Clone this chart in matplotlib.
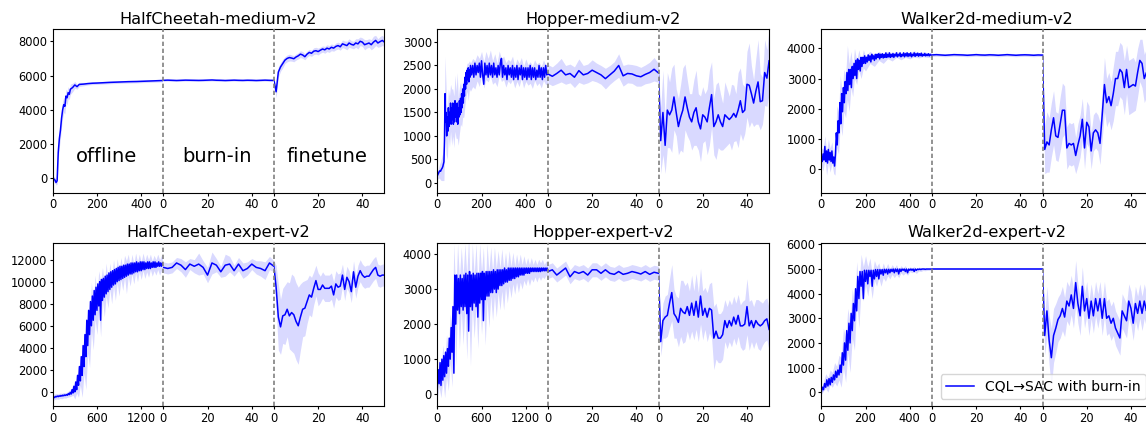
import matplotlib
matplotlib.use("Agg")
import matplotlib.pyplot as plt

# ---------------- data ----------------
burn_x = list(range(0, 51, 2))
fine_x = list(range(0, 51))

# HalfCheetah-medium-v2
hcm_off_x = [0, 5, 10, 15, 20, 25, 30, 35, 40, 45, 50, 55, 60, 65, 70, 75, 80, 90, 100, 110, 120, 140, 160, 180, 200, 230, 260, 300, 340, 380, 420, 460, 500]
hcm_off_y = [100, -50, -100, -250, -150, 1500, 2300, 2800, 3500, 4000, 4300, 4200, 4800, 4700, 5000, 4900, 5200, 5300, 5450, 5350, 5480, 5500, 5530, 5550, 5560, 5580, 5600, 5620, 5640, 5650, 5670, 5690, 5710]
hcm_off_s = [150, 150, 150, 150, 200, 400, 500, 500, 500, 500, 450, 450, 400, 400, 350, 300, 300, 250, 200, 150, 120, 100, 80, 80, 80, 80, 80, 80, 80, 80, 80, 80, 80]
hcm_burn_y = [5720, 5730, 5720, 5710, 5720, 5730, 5725, 5720, 5715, 5720, 5730, 5740, 5725, 5720, 5710, 5720, 5730, 5720, 5715, 5725, 5720, 5710, 5720, 5730, 5720, 5715]
hcm_burn_s = [60] * 26
hcm_fine_y = [5720, 5050, 6200, 6500, 6700, 6900, 7000, 7050, 7020, 6980, 7080, 7150, 7250, 7200, 7100, 7250, 7350, 7300, 7420, 7450, 7400, 7480, 7550, 7500, 7600, 7550, 7650, 7600, 7700, 7750, 7680, 7850, 7800, 7750, 7900, 7820, 7780, 7900, 7850, 8000, 7950, 7800, 7850, 7900, 7800, 7950, 8050, 7900, 7980, 8050, 7950]
hcm_fine_s = [100, 350, 300, 250, 250, 200, 200, 200, 180, 180, 180, 180, 200, 200, 180, 180, 180, 180, 200, 200, 200, 180, 180, 200, 200, 200, 200, 180, 200, 200, 200, 220, 220, 250, 250, 220, 220, 250, 300, 250, 250, 300, 250, 250, 300, 350, 300, 250, 300, 300, 250]

# Hopper-medium-v2
hom_off_x = [i * 2.5 for i in range(61)] + list(range(155, 501, 5))
hom_off_y = [150, 180, 200, 230, 250, 260, 250, 280, 300, 320, 350, 400, 450,
             900, 1900, 1300, 1500, 1000, 1400, 1100, 1600, 1200, 1500,
             1300, 1700, 1250, 1600, 1350, 1700, 1250, 1550, 1300, 1750,
             1400, 1650, 1300, 1700, 1250, 1600, 1400, 1750, 1450, 1800,
             1500, 1900, 1600, 2000, 1700, 2100, 1850, 2250, 2000, 2350,
             2100, 2400, 2200, 2450, 2150, 2400, 2250, 2500,
             2300, 2500, 2250, 2550, 2300, 2500, 2350, 2550, 2250, 2600,
             2300, 2100, 2550, 2300, 2500, 2250, 2550, 2300, 2500, 2250,
             2550, 2300, 2450, 2250, 2500, 2300, 2550, 2650, 2250, 2500,
             2300, 2450, 2200, 2500, 2300, 2450, 2250, 2500, 2200, 2450,
             2250, 2500, 2200, 2450, 2300, 2500, 2200, 2450, 2250, 2450,
             2200, 2450, 2250, 2500, 2200, 2450, 2250, 2450, 2200, 2400,
             2250, 2500, 2250, 2450, 2200, 2450, 2250, 2500, 2300, 2350]
hom_band_x = [0, 5, 10, 15, 20, 25, 30, 35, 40, 45, 50, 55, 60, 65, 70, 75, 80, 85, 90, 95, 100, 105, 110, 115, 120, 125, 130, 135, 140, 145, 150,
              160, 170, 180, 190, 200, 210, 220, 230, 240, 250, 260, 270, 280, 290, 300, 310, 320, 330, 340, 350, 360, 370, 380, 390, 400, 410, 420, 430, 440, 450, 460, 470, 480, 490, 500]
hom_band_y = [150, 200, 250, 260, 300, 350, 450, 1900, 1300, 1000, 1500, 1300, 1600, 1400, 1500, 1300, 1700, 1450, 1650, 1300, 1550, 1700, 1600, 1800, 1750, 2000, 2150, 2250, 2150, 2300, 2250,
              2350, 2300, 2450, 2350, 2550, 2300, 2500, 2400, 2550, 2350, 2450, 2300, 2550, 2400, 2450, 2300, 2400, 2350, 2450, 2250, 2400, 2300, 2450, 2250, 2400, 2300, 2350, 2250, 2400, 2300, 2350, 2250, 2400, 2300, 2350]
hom_band_s = [80, 100, 150, 200, 250, 300, 400, 800, 700, 500, 500, 550, 500, 600, 500, 550, 600, 500, 700, 500, 500, 450, 400, 400, 350, 350, 300, 300, 400, 300, 300,
              300, 300, 280, 300, 250, 280, 300, 250, 280, 250, 300, 250, 260, 240, 250, 260, 230, 240, 250, 230, 240, 250, 220, 230, 240, 220, 230, 240, 220, 230, 220, 230, 220, 210, 220]
hom_burn_y = [2320, 2270, 2330, 2400, 2300, 2330, 2250, 2390, 2300, 2330, 2400, 2350, 2300, 2220, 2300, 2380, 2500, 2280, 2330, 2320, 2280, 2260, 2310, 2350, 2420, 2340]
hom_burn_s = [200, 200, 220, 250, 200, 200, 220, 250, 200, 200, 220, 200, 200, 220, 200, 200, 250, 220, 200, 200, 220, 200, 200, 220, 250, 200]
hom_fine_y = [2300, 900, 1500, 800, 1550, 1450, 1550, 1830, 1500, 1200, 1400, 1550, 1830, 1600, 1400, 1300, 1500, 1600, 1300, 1150, 1450, 1400, 1300, 1600, 1880, 1200, 1300, 1450, 1300, 1200, 1450, 1400, 1350, 1400, 1480, 1400, 1550, 1750, 1500, 1550, 2100, 2080, 1900, 1700, 1950, 2150, 1730, 1750, 2350, 2230, 2600]
hom_fine_s = [100, 700, 900, 600, 800, 700, 900, 700, 500, 600, 700, 900, 700, 600, 500, 600, 700, 800, 600, 700, 600, 500, 700, 800, 700, 600, 800, 700, 600, 500, 700, 600, 500, 700, 600, 500, 800, 700, 600, 500, 700, 900, 600, 500, 700, 900, 600, 500, 700, 600, 700]

# Walker2d-medium-v2
wam_off_x = list(range(0, 501, 4))
wam_off_y = [400, 250, 500, 300, 750, 250, 600, 200, 650, 300,
             550, 250, 600, 200, 400, 100, 500, 1200, 800, 1600,
             1200, 2200, 1500, 2500, 1900, 2700, 2200, 2900, 2500, 3200,
             2600, 3300, 2800, 3300, 2700, 3400, 3000, 3500, 3100, 3600,
             3000, 3650, 3300, 3600, 3250, 3700, 3400, 3700, 3500, 3750,
             3500, 3700, 3550, 3780, 3600, 3750, 3550, 3800, 3650, 3750,
             3600, 3800, 3650, 3800, 3700, 3820, 3650, 3800, 3700, 3820,
             3680, 3800, 3700, 3850, 3700, 3800, 3720, 3850, 3700, 3800,
             3720, 3830, 3700, 3800, 3750, 3850, 3720, 3800, 3750, 3850,
             3720, 3800, 3750, 3850, 3720, 3820, 3750, 3850, 3730, 3820,
             3750, 3850, 3720, 3800, 3760, 3850, 3730, 3820, 3760, 3840,
             3740, 3820, 3760, 3840, 3740, 3800, 3760, 3830, 3750, 3800,
             3760, 3820, 3750, 3800, 3770, 3780]
wam_band_x = [0, 8, 16, 24, 32, 40, 48, 56, 62, 70, 78, 86, 94, 102, 110, 118, 126, 134, 142, 150, 160, 170, 180, 190, 200, 220, 240, 260, 280, 300, 320, 340, 360, 380, 400, 420, 440, 460, 480, 500]
wam_band_y = [400, 300, 700, 200, 600, 300, 550, 150, 100, 1400, 1200, 2300, 1800, 2600, 2400, 3200, 2700, 3300, 2900, 3500, 3200, 3600, 3300, 3650, 3500, 3700, 3600, 3750, 3650, 3780, 3700, 3800, 3720, 3800, 3750, 3820, 3760, 3800, 3780, 3780]
wam_band_s = [300, 350, 400, 400, 400, 400, 350, 300, 300, 700, 700, 800, 700, 700, 700, 900, 800, 600, 500, 500, 400, 350, 300, 300, 250, 200, 200, 150, 150, 120, 120, 100, 100, 100, 100, 100, 80, 80, 80, 80]
wam_burn_y = [3780, 3790, 3780, 3770, 3780, 3790, 3785, 3780, 3770, 3780, 3790, 3780, 3775, 3785, 3780, 3770, 3780, 3790, 3780, 3770, 3780, 3785, 3780, 3770, 3780, 3775]
wam_burn_s = [50] * 26
wam_fine_y = [3780, 650, 900, 800, 1300, 1700, 1100, 1050, 1500, 1950, 1950, 700, 850, 800, 850, 450, 800, 1100, 1650, 700, 1550, 1400, 600, 1200, 1300, 1200, 850, 1800, 2800, 2200, 2400, 2100, 2500, 3000, 3000, 3300, 3200, 2700, 3300, 2700, 2750, 2800, 2750, 3200, 3600, 3500, 3000, 3200, 3100, 3300, 3200]
wam_fine_s = [100, 800, 1000, 900, 900, 900, 800, 800, 900, 900, 800, 700, 700, 700, 700, 600, 700, 700, 700, 700, 700, 700, 600, 600, 600, 600, 700, 800, 900, 800, 800, 800, 900, 900, 900, 900, 900, 900, 800, 900, 900, 900, 800, 800, 700, 800, 800, 800, 800, 800, 800]

# HalfCheetah-expert-v2
hce_off_x = [i * 12.5 for i in range(121)]
hce_off_y = [-500, -450, -520, -420, -450, -380, -430, -360, -400, -330, -380, -300, -350, -280, -320, -250,
             -300, -150, -250, -50, -200, 200, -100, 500, 0, 900, 200, 1500, 600, 2300, 1000, 3200,
             1500, 4200, 2300, 5200, 3200, 6500, 4200, 7400, 5200, 8200, 6000, 8700, 6500, 9200, 7000, 9500,
             7400, 9800, 7800, 10000, 6500, 10200, 8300, 10300, 8600, 10500, 8900, 10600, 9100, 10800, 9300, 10900,
             9500, 11000, 9700, 11100, 9800, 11200, 10000, 11300, 10100, 11400, 10200, 11400, 10300, 11500, 10400, 11500,
             10500, 11600, 10600, 11600, 10700, 11700, 10700, 11700, 10800, 11700, 10900, 11800, 10900, 11700, 11000, 11800,
             11000, 11800, 11100, 11800, 11100, 11700, 11200, 11800, 11200, 11800, 11200, 11700, 11300, 11800, 11300, 11800,
             11300, 11700, 11400, 11800, 11400, 11700, 11400, 11700, 11500]
hce_band_x = list(range(0, 1501, 25))
hce_band_y = [-500, -450, -400, -420, -350, -380, -300, -320, -250, -150, -100, 200, -50, 600, 300, 1800, 1000, 3500, 2200, 5500, 4200, 7800, 5800, 8600, 7000, 9200, 7500, 9800, 8300, 10200, 8800, 10500, 9200, 10800, 9500, 11000, 9800, 11200, 10200, 11400, 10400, 11500, 10500, 11600, 10700, 11700, 10900, 11700, 11000, 11800, 11100, 11700, 11200, 11800, 11200, 11700, 11300, 11800, 11300, 11700, 11400]
hce_band_s = [300, 250, 250, 250, 250, 250, 250, 250, 250, 300, 300,
              500, 600, 700, 800,
              1200, 1500, 1800, 2000, 2000, 2000, 2200, 2000, 2000, 1800,
              1800, 2500, 1500, 1500, 1500, 1200, 1200, 1200, 1200, 1200, 1100, 1100,
              1000, 1000, 1000, 1500, 1000, 900, 900, 900, 900, 900, 800, 800, 800, 800, 800, 800, 700, 700, 700, 700, 700, 700, 700, 700]
hce_burn_y = [11300, 11200, 11300, 11700, 11500, 11100, 11600, 11400, 11600, 11300, 10600, 11700, 11500, 10900, 11500, 11600, 11000, 11600, 11000, 11200, 11600, 11300, 11200, 11000, 11700, 11400]
hce_burn_s = [500, 500, 500, 500, 600, 700, 500, 600, 1000, 600, 700, 1000, 600, 500, 1000, 700, 500, 600, 700, 600, 500, 600, 700, 800, 600, 500]
hce_fine_y = [11400, 9500, 6800, 5900, 6900, 7000, 7500, 6900, 7200, 7000, 6400, 6000, 6800, 7500, 7600, 8200, 8800, 8600, 9400, 10100, 9300, 9300, 9700, 9400, 9400, 9400, 9600, 8800, 9800, 9500, 9600, 10600, 9300, 10400, 10000, 9100, 10900, 9500, 10500, 11000, 10600, 10400, 10500, 10500, 10800, 11100, 11300, 10600, 10500, 10600, 10600]
hce_fine_s = [500, 2000, 3000, 2500, 2500, 2700, 2500, 3000, 3500, 3500, 3500, 3500, 3000, 2500, 2500, 2000, 1800, 1800, 1500, 1400, 1500, 1200, 1200, 1200, 1200, 1200, 1200, 1200, 1200, 1200, 1200, 1000, 1000, 1000, 1000, 1000, 1000, 1000, 1000, 1000, 1000, 1000, 1000, 1000, 1000, 1000, 1000, 1000, 1000, 1000, 1000]

# Hopper-expert-v2
hoe_off_x = [i * 12.5 for i in range(121)]
hoe_off_y = [200, 700, 300, 900, 250, 1000, 400, 1100, 500, 1200, 600, 1300, 800, 1600, 1000, 1900,
             1200, 2500, 600, 3400, 2000, 3400, 2400, 3300, 2300, 3400, 2500, 3300, 2400, 3400, 2500, 3450,
             2300, 3400, 1800, 3500, 2500, 3400, 2400, 3450, 2600, 3400, 2500, 3450, 2200, 3450, 2600, 3450,
             2700, 3500, 2100, 3450, 2700, 3500, 2800, 3500, 2800, 3500, 2900, 3500, 2900, 3550, 3000, 3500,
             2900, 3550, 3000, 3550, 3100, 3550, 3100, 3550, 3150, 3600, 3200, 3550, 3200, 3600, 3250, 3600,
             3250, 3600, 3300, 3600, 3300, 3600, 3350, 3600, 3350, 3600, 3400, 3600, 3400, 3600, 3400, 3600,
             3450, 3600, 3450, 3600, 3450, 3600, 3500, 3600, 3500, 3600, 3500, 3600, 3500, 3600, 3500, 3600,
             3500, 3600, 3520, 3600, 3520, 3600, 3520, 3600, 3550]
hoe_band_x = list(range(0, 1501, 25))
hoe_band_y = [200, 600, 300, 900, 400, 1100, 700, 1600, 1000, 3400, 1800, 3400, 2300, 3300, 2400, 3400, 2200, 3500, 1800, 3400, 2500, 3400, 2200, 3500, 2600, 3400, 2200, 3500, 2700, 3500, 2800, 3500, 2900, 3500, 3000, 3550, 3000, 3550, 3100, 3600, 3200, 3600, 3250, 3600, 3300, 3600, 3350, 3600, 3400, 3600, 3400, 3600, 3450, 3600, 3450, 3600, 3500, 3600, 3500, 3600, 3500]
hoe_band_s = [300, 400, 400, 500, 500, 600, 600, 700, 800,
              900, 1000, 900, 1000, 900, 1000, 900, 1200, 1000, 1000, 900, 900, 900, 900, 800, 900, 800, 800, 800, 800,
              700, 700, 700, 700, 600, 600, 600, 600, 500, 500, 500, 450, 450, 400, 400, 400,
              400, 350, 350, 300, 300, 300, 300, 250, 250, 250, 250, 250, 250, 200, 200, 200]
hoe_burn_y = [3500, 3550, 3400, 3500, 3600, 3350, 3500, 3450, 3500, 3400, 3550, 3550, 3450, 3550, 3450, 3420, 3500, 3420, 3450, 3500, 3470, 3430, 3500, 3420, 3480, 3450]
hoe_burn_s = [200] * 26
hoe_fine_y = [3450, 1500, 2100, 2200, 2250, 2600, 2900, 2300, 2200, 2050, 2450, 2350, 2300, 2500, 2250, 2600, 2250, 2650, 2200, 2800, 2250, 2450, 2200, 2450, 2400, 1600, 1800, 1600, 1600, 1700, 2100, 1900, 2100, 1950, 2200, 2000, 2250, 1950, 1950, 2000, 2500, 1950, 2100, 1900, 2100, 2000, 1950, 2000, 2100, 2150, 1850]
hoe_fine_s = [100, 400, 500, 600, 600, 700, 800, 700, 600, 700, 800, 900, 800, 700, 700, 800, 700, 800, 700, 800, 700, 600, 700, 700, 800, 900, 800, 700, 700, 700, 600, 600, 600, 600, 600, 600, 600, 600, 700, 700, 800, 700, 600, 600, 600, 700, 700, 600, 600, 600, 600]

# Walker2d-expert-v2
wae_off_x = list(range(0, 501, 5))
wae_off_y = [0, 200, 100, 350, 200, 500, 250, 550, 300, 600,
             400, 700, 500, 850, 600, 900, 700, 1100, 800, 1600,
             1100, 2000, 1300, 2500, 1700, 2800, 2000, 3200, 2500, 3600,
             2900, 4200, 3300, 4700, 3800, 4900, 4300, 4900, 3800, 4950,
             4500, 4950, 4400, 4950, 4700, 4950, 4300, 4950, 4600, 4980,
             4700, 4980, 4600, 4980, 4800, 4980, 4750, 4990, 4850, 4990,
             4800, 4990, 4850, 4990, 4900, 5000, 4850, 5000, 4900, 5000,
             4800, 5000, 4900, 5000, 4950, 5000, 4900, 5000, 4850, 5000,
             4950, 5000, 4950, 5000, 4900, 5000, 4950, 5000, 4980, 5000,
             4980, 5000, 5000, 5000, 4990, 5000, 5000, 5000, 5000, 5000,
             5000]
wae_band_x = list(range(0, 501, 10))
wae_band_y = [0, 250, 450, 300, 600, 500, 800, 650, 1000, 800, 1800, 1300, 2500, 1800, 3200, 2600, 4500, 3400, 4900, 4400, 4950, 4500, 4950, 4300, 4950, 4700, 4950, 4600, 4950, 4750, 4980, 4800, 4980, 4850, 4980, 4800, 4990, 4900, 4990, 4850, 4990, 4950, 5000, 4900, 5000, 4980, 5000, 4990, 5000, 5000, 5000]
wae_band_s = [100, 200, 300, 300, 300, 300, 400, 400,
              500, 600, 800, 900, 900, 1000, 1000, 900, 800, 800, 700, 700, 600, 600, 500, 500, 400, 400,
              300, 300, 300, 250, 250, 200, 200, 200, 200, 150, 150, 150, 150, 100, 100, 100, 100, 80, 80, 80, 60, 60, 50, 50, 50]
wae_burn_y = [5000] * 26
wae_burn_s = [30] * 26
wae_fine_y = [5000, 2300, 3300, 2100, 1400, 2300, 2600, 2950, 3100, 3400, 3050, 3700, 3500, 3950, 3400, 4450, 3600, 3100, 4300, 3300, 3800, 3000, 3700, 3100, 3800, 3300, 3800, 3000, 3800, 3000, 3100, 2800, 3000, 2600, 2400, 2200, 3300, 3100, 2900, 3700, 3400, 2800, 3600, 3200, 3700, 3200, 3700, 3300, 3600, 3200, 3500]
wae_fine_s = [100, 800, 1000, 1000, 1200, 1100, 1000, 900, 900, 900, 800, 800, 800, 800, 800, 900, 800, 800, 800, 700, 700, 700, 700, 700, 700, 700, 700, 700, 700, 700, 700, 700, 700, 700, 700, 700, 700, 700, 700, 700, 700, 700, 700, 700, 700, 700, 700, 700, 700, 700, 700]

titles = ["HalfCheetah-medium-v2", "Hopper-medium-v2", "Walker2d-medium-v2",
          "HalfCheetah-expert-v2", "Hopper-expert-v2", "Walker2d-expert-v2"]
offline_max = [500, 500, 500, 1500, 1500, 500]
offline_ticks = [[0, 200, 400], [0, 200, 400], [0, 200, 400],
                 [0, 600, 1200], [0, 600, 1200], [0, 200, 400]]
seg_ticks = [0, 20, 40]
ylims = [(-850, 8700), (-210, 3270), (-785, 4630), (-1300, 13540), (-342, 4323), (-570, 6070)]
yticks = [[0, 2000, 4000, 6000, 8000], [0, 500, 1000, 1500, 2000, 2500, 3000],
          [0, 1000, 2000, 3000, 4000], [0, 2000, 4000, 6000, 8000, 10000, 12000],
          [0, 1000, 2000, 3000, 4000], [0, 1000, 2000, 3000, 4000, 5000, 6000]]
phase_labels = ["offline", "burn-in", "finetune"]
phase_label_x = [244, 24.5, 23.8]
phase_label_y = 970
legend_label = "CQL\u2192SAC with burn-in"

# each panel: offline line, offline band, burn-in, finetune
panels = [
    ((hcm_off_x, hcm_off_y), (hcm_off_x, hcm_off_y, hcm_off_s), (hcm_burn_y, hcm_burn_s), (hcm_fine_y, hcm_fine_s)),
    ((hom_off_x, hom_off_y), (hom_band_x, hom_band_y, hom_band_s), (hom_burn_y, hom_burn_s), (hom_fine_y, hom_fine_s)),
    ((wam_off_x, wam_off_y), (wam_band_x, wam_band_y, wam_band_s), (wam_burn_y, wam_burn_s), (wam_fine_y, wam_fine_s)),
    ((hce_off_x, hce_off_y), (hce_band_x, hce_band_y, hce_band_s), (hce_burn_y, hce_burn_s), (hce_fine_y, hce_fine_s)),
    ((hoe_off_x, hoe_off_y), (hoe_band_x, hoe_band_y, hoe_band_s), (hoe_burn_y, hoe_burn_s), (hoe_fine_y, hoe_fine_s)),
    ((wae_off_x, wae_off_y), (wae_band_x, wae_band_y, wae_band_s), (wae_burn_y, wae_burn_s), (wae_fine_y, wae_fine_s)),
]

# ---------------- drawing ----------------
W, H = 1146, 424
fig = plt.figure(figsize=(W / 100, H / 100), dpi=100)
plt.rcParams['font.family'] = ['DejaVu Sans']

lefts = [52.7, 437.3, 821.3]
tops = [29.3, 242.7]
seg_w = 110.6
ax_h = 163.5
LINE = 'blue'
BAND_ALPHA = 0.15

legend_handle = None
for p in range(6):
    row, col = divmod(p, 3)
    L, T = lefts[col], tops[row]
    (lx_off, ly_off), (bx_off, by_off, bs_off), (burn_y, burn_s), (fine_y, fine_s) = panels[p]
    axs = []
    for i in range(3):
        rect = [(L + i * seg_w) / W, (H - T - ax_h) / H, seg_w / W, ax_h / H]
        ax = fig.add_axes(rect, sharey=axs[0] if axs else None)
        axs.append(ax)
    segs = [((lx_off, ly_off), (bx_off, by_off, bs_off)),
            ((burn_x, burn_y), (burn_x, burn_y, burn_s)),
            ((fine_x, fine_y), (fine_x, fine_y, fine_s))]
    for i, (ax, ((xs, ys), (bx, by, bs))) in enumerate(zip(axs, segs)):
        lo = [y - s for y, s in zip(by, bs)]
        hi = [y + s for y, s in zip(by, bs)]
        ax.fill_between(bx, lo, hi, color=LINE, alpha=BAND_ALPHA, linewidth=0)
        n = min(len(xs), len(ys))
        ln, = ax.plot(xs[:n], ys[:n], color=LINE, linewidth=1.1, label=legend_label)
        if legend_handle is None:
            legend_handle = ln
        ax.tick_params(axis='both', labelsize=8.3, length=2.5, pad=1.5, width=0.8)
        for sp in ax.spines.values():
            sp.set_linewidth(0.8)
        if i == 0:
            ax.set_xlim(0, offline_max[p])
            ax.set_xticks(offline_ticks[p])
            ax.spines['right'].set_visible(False)
        else:
            ax.set_xlim(0, 50)
            ax.set_xticks(seg_ticks)
            ax.spines['left'].set_visible(False)
            ax.tick_params(axis='y', left=False, labelleft=False)
            ax.axvline(0, color='gray', linestyle=(0, (2.6, 1.6)), linewidth=1.2,
                       clip_on=False, zorder=6)
            if i == 1:
                ax.spines['right'].set_visible(False)
    axs[0].set_ylim(*ylims[p])
    axs[0].set_yticks(yticks[p])
    axs[1].set_title(titles[p], fontsize=11.6, pad=4)
    if p == 0:
        for ax, lab, lx in zip(axs, phase_labels, phase_label_x):
            ax.text(lx, phase_label_y, lab, fontsize=14, ha='center', va='baseline')
    if p == 5:
        axs[2].legend(handles=[legend_handle], loc='lower right', fontsize=10)

fig.savefig("out.png", dpi=100)
